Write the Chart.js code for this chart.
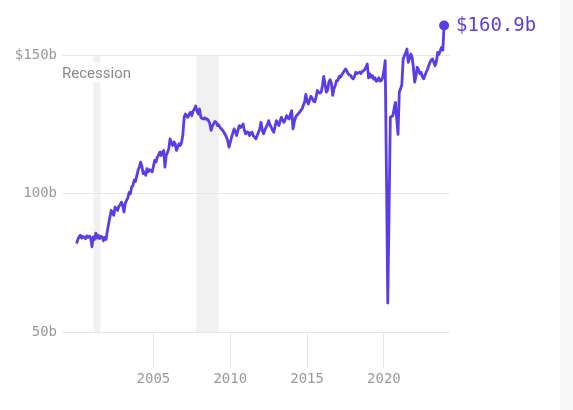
<!DOCTYPE html>
<html>
<head>
<meta charset="utf-8">
<script src="https://cdn.jsdelivr.net/npm/chart.js@4"></script>
<style>
  html, body { margin: 0; padding: 0; background: #fff; }
  #wrap { width: 573px; height: 410px; }
</style>
</head>
<body>
<div id="wrap"><canvas id="chart"></canvas></div>
<script>
const startYear = 2000;
// monthly values, $ billions, Jan 2000 .. Dec 2023
const monthlyValues = [
  82.0, 83.5, 84.5, 85.0, 84.0, 84.6, 84.2, 83.8, 84.8, 84.2, 84.7, 84.0, // 2000
  80.8, 84.4, 83.5, 85.8, 84.0, 85.0, 83.8, 84.6, 84.4, 83.0, 84.2, 83.5, // 2001
  86.5, 89.2, 91.5, 94.0, 93.0, 92.2, 95.2, 94.5, 94.0, 95.5, 96.0, 97.0, // 2002
  95.8, 93.4, 96.5, 97.7, 98.5, 100.5, 100.0, 102.5, 103.0, 105.0, 104.5, 106.5, // 2003
  108.5, 109.7, 111.5, 110.0, 107.3, 107.9, 106.7, 109.1, 108.0, 108.7, 108.5, 107.9, // 2004
  110.0, 112.1, 111.5, 113.3, 114.0, 115.1, 113.9, 115.0, 115.7, 109.7, 113.9, 115.0, // 2005
  116.3, 119.9, 118.5, 117.5, 118.8, 118.1, 115.7, 117.0, 118.1, 117.5, 118.7, 121.5, // 2006
  127.7, 128.9, 128.0, 127.7, 129.0, 129.5, 128.3, 130.0, 130.7, 131.8, 130.0, 128.9, // 2007
  130.7, 127.7, 127.3, 127.1, 127.5, 127.0, 127.1, 126.5, 125.5, 123.0, 124.5, 125.3, // 2008
  126.2, 125.9, 124.7, 125.0, 124.0, 123.5, 123.0, 122.3, 121.5, 120.5, 119.3, 116.9, // 2009
  118.5, 120.5, 122.0, 123.5, 122.5, 121.1, 123.0, 124.7, 124.0, 124.5, 125.3, 123.0, // 2010
  121.7, 122.5, 122.3, 121.1, 122.0, 122.3, 121.0, 120.5, 119.9, 121.0, 122.3, 123.5, // 2011
  125.9, 123.0, 121.7, 123.0, 124.1, 125.0, 126.5, 125.0, 124.1, 123.0, 122.3, 124.5, // 2012
  126.5, 125.5, 124.7, 126.5, 127.7, 126.5, 125.9, 127.0, 128.3, 127.5, 127.1, 129.0, // 2013
  130.1, 123.5, 126.0, 127.7, 128.5, 128.9, 129.5, 130.1, 130.7, 132.0, 133.1, 136.0, // 2014
  133.5, 132.5, 134.0, 135.3, 134.5, 133.5, 133.3, 135.0, 137.4, 136.8, 136.5, 136.8, // 2015
  139.2, 142.5, 139.8, 136.8, 137.5, 140.4, 141.3, 140.0, 135.6, 138.0, 139.2, 141.0, // 2016
  141.0, 142.5, 142.2, 143.0, 143.7, 144.5, 145.2, 144.5, 143.5, 143.0, 142.8, 142.0, // 2017
  141.6, 142.5, 144.0, 143.5, 143.8, 144.0, 143.5, 144.3, 144.5, 145.0, 145.8, 147.0, // 2018
  142.0, 143.4, 142.2, 142.8, 141.5, 142.0, 140.7, 141.0, 142.0, 140.8, 141.0, 142.0, // 2019
  144.6, 148.2, 106.0, 60.5, 93.0, 127.7, 128.0, 128.3, 131.0, 133.1, 127.0, 121.5, // 2020
  136.8, 138.0, 139.5, 148.8, 150.0, 151.0, 152.4, 147.6, 149.0, 150.6, 149.5, 145.8, // 2021
  140.4, 142.5, 145.8, 145.0, 143.5, 144.0, 142.5, 141.6, 142.8, 144.0, 145.0, 146.4, // 2022
  147.6, 148.5, 148.8, 147.5, 146.4, 148.0, 151.2, 150.5, 151.8, 153.0, 152.0, 160.9  // 2023
];
const xTicks = [2005, 2010, 2015, 2020];
const yTicks = [50, 100, 150];
const yTickLabels = ['50b', '100b', '$150b'];
const recessionStart = [2001.1, 2007.8];
const recessionEnd = [2001.55, 2009.25];
const recessionLabel = 'Recession';

const points = monthlyValues.map((v, i) => ({ x: startYear + i / 12, y: v }));
const last = points.length - 1;
const purple = '#5b3ce6';
const mono = '"DejaVu Sans Mono", monospace';

const extras = {
  id: 'extras',
  beforeDraw(chart) {
    const { ctx, scales: { x, y } } = chart;
    ctx.save();
    ctx.fillStyle = '#f8f8f8';
    ctx.fillRect(560, 0, chart.width - 560, chart.height);
    ctx.fillStyle = '#f1f1f1';
    const top = y.getPixelForValue(150), bottom = y.getPixelForValue(50);
    recessionStart.forEach((s, i) => {
      const x0 = x.getPixelForValue(s), x1 = x.getPixelForValue(recessionEnd[i]);
      ctx.fillRect(x0, top, x1 - x0, bottom - top);
    });
    ctx.restore();
  },
  afterDatasetsDraw(chart) {
    const { ctx, scales: { y } } = chart;
    ctx.save();
    ctx.font = '15px Roboto, sans-serif';
    const w = ctx.measureText(recessionLabel).width;
    const lx = chart.chartArea.left, ly = y.getPixelForValue(150) + 22;
    ctx.fillStyle = '#fff';
    ctx.fillRect(lx - 1, ly - 15, w + 3, 20);
    ctx.fillStyle = '#8a8a8a';
    ctx.fillText(recessionLabel, lx, ly);

    const pt = chart.getDatasetMeta(0).data[last];
    ctx.font = '19px ' + mono;
    ctx.fillStyle = purple;
    ctx.textBaseline = 'middle';
    ctx.fillText('$' + monthlyValues[last].toFixed(1) + 'b', pt.x + 12, pt.y + 1);
    ctx.restore();
  }
};

new Chart(document.getElementById('chart'), {
  type: 'line',
  data: {
    datasets: [{
      data: points,
      borderColor: purple,
      borderWidth: 2.8,
      borderJoinStyle: 'round',
      tension: 0,
      pointRadius: c => (c.dataIndex === last ? 5 : 0),
      pointBackgroundColor: purple,
      pointBorderWidth: 0,
      clip: false
    }]
  },
  options: {
    responsive: true,
    maintainAspectRatio: false,
    animation: false,
    layout: { padding: { top: 0, right: 123, left: 0, bottom: 0 } },
    plugins: { legend: { display: false }, tooltip: { enabled: false } },
    scales: {
      x: {
        type: 'linear',
        min: 1999.05,
        max: 2024.3,
        afterBuildTicks: s => { s.ticks = xTicks.map(v => ({ value: v })); },
        afterFit: s => { s.height = 78; },
        grid: { drawOnChartArea: false, drawTicks: true, tickLength: 36, color: '#e6e6e6' },
        border: { display: false },
        ticks: {
          font: { family: mono, size: 14 },
          color: '#9a9a9a',
          padding: 3,
          maxRotation: 0,
          callback: v => String(v)
        }
      },
      y: {
        min: 50,
        max: 165.3,
        afterBuildTicks: s => { s.ticks = yTicks.map(v => ({ value: v })); },
        afterFit: s => { s.width = 62; },
        grid: { drawTicks: false, color: '#e6e6e6' },
        border: { display: false },
        ticks: {
          font: { family: mono, size: 14 },
          color: '#9a9a9a',
          padding: 5,
          callback: v => yTickLabels[yTicks.indexOf(v)]
        }
      }
    }
  },
  plugins: [extras]
});
</script>
</body>
</html>
